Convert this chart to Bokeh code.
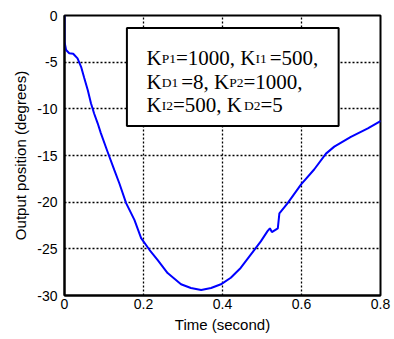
from bokeh.plotting import figure
from bokeh.models import Range1d, FixedTicker, ColumnDataSource, PrintfTickFormatter
from bokeh.core.properties import value
from bokeh.embed import file_html
from bokeh.resources import INLINE

# ---- data ----
time_s = [0.0, 0.0, 0.004, 0.012, 0.022, 0.033, 0.042, 0.050, 0.059, 0.067, 0.075,
          0.084, 0.092, 0.109, 0.126, 0.139, 0.156, 0.177, 0.194, 0.215, 0.236,
          0.261, 0.295, 0.320, 0.346, 0.371, 0.396, 0.421, 0.446, 0.472, 0.497,
          0.514, 0.520, 0.525, 0.540, 0.544, 0.565, 0.599, 0.632, 0.662, 0.683,
          0.725, 0.768, 0.801]
position_deg = [0.0, -2.8, -3.7, -4.05, -4.1, -4.6, -5.5, -6.7, -8.0, -9.4, -10.5,
                -11.55, -12.6, -14.6, -16.55, -18.0, -20.1, -21.9, -23.85, -25.1, -26.2,
                -27.6, -28.8, -29.2, -29.4, -29.2, -28.8, -28.1, -27.05, -25.6, -24.2,
                -23.1, -22.8, -23.2, -22.8, -21.2, -20.1, -18.1, -16.5, -14.8, -14.05,
                -13.0, -12.1, -11.3]
x_ticks = [0, 0.2, 0.4, 0.6, 0.8]
y_ticks = [0, -5, -10, -15, -20, -25, -30]

# annotation box with the controller gains
box_left, box_right, box_top, box_bottom = 0.158, 0.694, -1.33, -11.84
text_x = 0.2076
line_y = [-4.52, -7.08, -9.58]
# (text, is_subscript, extra gap in px after the segment)
lines = [
    [("K", 0, 0), ("P1", 1, 0), ("=1000, K", 0, 0), ("I1", 1, 3), ("=500,", 0, 0)],
    [("K", 0, 0), ("D1", 1, 3), ("=8, K", 0, 0), ("P2", 1, 0), ("=1000,", 0, 0)],
    [("K", 0, 0), ("I2", 1, 0), ("=500, K", 0, 2), ("D2", 1, 0), ("=5", 0, 0)],
]

MAIN_SIZE = 21
SUB_SIZE = 13.5
widths = {"K": 0.722, "P": 0.556, "D": 0.722, "I": 0.333, "=": 0.564, ",": 0.25, " ": 0.25}
for d in "0123456789":
    widths[d] = 0.5

def text_w(s, size):
    return sum(widths.get(c, 0.5) for c in s) * size

tx, ty, tt, txo, tyo, tfs = [], [], [], [], [], []
for segs, yv in zip(lines, line_y):
    cur = 0.0
    for s, sub, gap in segs:
        size = SUB_SIZE if sub else MAIN_SIZE
        tx.append(text_x)
        ty.append(yv)
        tt.append(s)
        txo.append(cur)
        tyo.append(1 if sub else 0)
        tfs.append(f"{size}px")
        cur += text_w(s, size) + gap

p = figure(width=394, height=339, output_backend="svg", toolbar_location=None,
           x_range=Range1d(0, 0.8), y_range=Range1d(-30, 0),
           min_border_left=64, min_border_right=14, min_border_top=15, min_border_bottom=44)
p.background_fill_color = "white"
p.border_fill_color = "white"
p.outline_line_color = "black"
p.outline_line_width = 2

for ax in (p.xaxis, p.yaxis):
    ax.axis_line_width = 2
    ax.axis_line_color = "black"
    ax.major_tick_in = 0
    ax.major_tick_out = 0
    ax.minor_tick_in = 0
    ax.minor_tick_out = 0
    ax.major_label_text_font = "Liberation Sans"
    ax.major_label_text_font_size = "14px"
    ax.major_label_text_color = "black"
    ax.axis_label_text_font = "Liberation Sans"
    ax.axis_label_text_font_size = "15px"
    ax.axis_label_text_font_style = "normal"
    ax.axis_label_text_color = "black"

p.xaxis.ticker = FixedTicker(ticks=x_ticks)
p.yaxis.ticker = FixedTicker(ticks=y_ticks)
p.yaxis.formatter = PrintfTickFormatter(format="%d")
p.xaxis.axis_label = "Time (second)"
p.yaxis.axis_label = "Output position (degrees)"
p.xaxis.major_label_standoff = 3
p.xaxis.axis_label_standoff = 4
p.yaxis.major_label_standoff = 7
p.yaxis.axis_label_standoff = 5

p.xgrid.ticker = FixedTicker(ticks=x_ticks)
p.ygrid.ticker = FixedTicker(ticks=y_ticks)
for g in (p.xgrid, p.ygrid):
    g.grid_line_color = "black"
    g.grid_line_dash = "2 2"
    g.grid_line_width = 1.3

p.line(time_s, position_deg, line_color="#0000ff", line_width=2)

p.quad(left=[box_left], right=[box_right], top=[box_top], bottom=[box_bottom],
       fill_color="white", line_color="black", line_width=2)

src = ColumnDataSource(dict(x=tx, y=ty, t=tt, xo=txo, yo=tyo, fs=tfs))
p.text(x="x", y="y", text="t", x_offset="xo", y_offset="yo", text_font_size="fs",
       source=src, text_font=value("Liberation Serif"), text_color="black",
       text_align="left", text_baseline="alphabetic")

open("out.html", "w").write(file_html(p, INLINE))
